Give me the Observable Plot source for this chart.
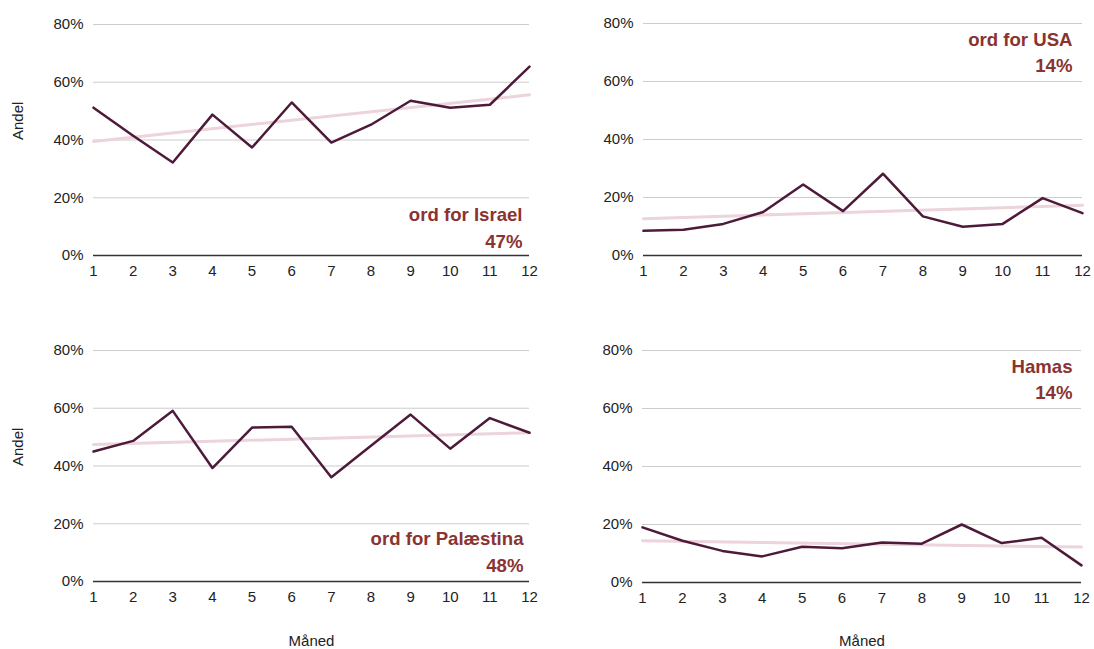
<!DOCTYPE html>
<html>
<head>
<meta charset="utf-8">
<script src="https://cdn.jsdelivr.net/npm/d3@7"></script>
<script src="https://cdn.jsdelivr.net/npm/@observablehq/plot@0.6"></script>
<style>
  html, body { margin: 0; padding: 0; background: #fff; }
  #wrap { position: relative; width: 1094px; height: 649px; overflow: hidden; font-family: "Liberation Sans", Arial, sans-serif; }
  #wrap > div { position: absolute; }
</style>
</head>
<body>
<div id="wrap"></div>
<script>
// Month numbers
const months = [1, 2, 3, 4, 5, 6, 7, 8, 9, 10, 11, 12];
// Shares (%) per month
const israel    = [51.2, 41.5, 32.2, 48.8, 37.4, 53.0, 39.1, 45.3, 53.6, 51.2, 52.2, 65.4];
const usa       = [8.5, 8.9, 10.9, 15.0, 24.5, 15.3, 28.2, 13.5, 9.9, 10.9, 19.8, 14.6];
const palestina = [45.0, 48.7, 59.1, 39.3, 53.3, 53.6, 36.1, 47.0, 57.8, 46.0, 56.6, 51.5];
const hamas     = [19.0, 14.4, 10.9, 9.0, 12.3, 11.8, 13.8, 13.4, 20.0, 13.6, 15.4, 5.9];
// Panel labels
const titles = ["ord for Israel", "ord for USA", "ord for Palæstina", "Hamas"];
const averages = ["47%", "14%", "48%", "14%"];
const yTicks = [0, 20, 40, 60, 80];
const yLabel = "Andel";
const xLabel = "Måned";

const panels = [
  {values: israel,    i: 0, left: 0,   top: 0,   h: 300, ml: 93, mr: 18, mt: 24, mb: 45, anchor: "bottom-right", dx: -7,  dy: -8,  showY: true,  showX: false},
  {values: usa,       i: 1, left: 547, top: 0,   h: 300, ml: 96, mr: 12, mt: 23, mb: 45, anchor: "top-right",    dx: -10, dy: 4,   showY: false, showX: false},
  {values: palestina, i: 2, left: 0,   top: 326, h: 323, ml: 93, mr: 18, mt: 24, mb: 68, anchor: "bottom-right", dx: -6,  dy: -10, showY: true,  showX: true},
  {values: hamas,     i: 3, left: 547, top: 326, h: 323, ml: 95, mr: 13, mt: 24, mb: 67, anchor: "top-right",    dx: -9,  dy: 4,   showY: false, showX: true}
];

const wrap = document.getElementById("wrap");
for (const p of panels) {
  const data = months.map((m, k) => ({month: m, value: p.values[k]}));
  const chart = Plot.plot({
    width: 547,
    height: p.h,
    marginLeft: p.ml,
    marginRight: p.mr,
    marginTop: p.mt,
    marginBottom: p.mb,
    style: {fontFamily: "'Liberation Sans', Arial, sans-serif", fontSize: "15px", color: "#222", background: "transparent", overflow: "visible"},
    x: {domain: [1, 12], ticks: months, tickSize: 0, tickPadding: 10, tickFormat: d => String(d), label: null},
    y: {domain: [0, 80], ticks: yTicks, tickSize: 0, tickPadding: 10, tickFormat: d => d + "%", label: null},
    marks: [
      Plot.ruleY(yTicks.filter(t => t > 0), {stroke: "#cccccc", strokeWidth: 1.2}),
      Plot.ruleY([0], {stroke: "#333333", strokeWidth: 1.5}),
      Plot.linearRegressionY(data, {x: "month", y: "value", stroke: "#ecd3dc", strokeWidth: 3, ci: 0}),
      Plot.line(data, {x: "month", y: "value", stroke: "#4e1a3a", strokeWidth: 2.5}),
      Plot.text([titles[p.i] + "\n" + averages[p.i]], {
        frameAnchor: p.anchor, textAnchor: "end", dx: p.dx, dy: p.dy,
        fill: "#8a3330", fontWeight: "bold", fontSize: 18.6, lineHeight: 1.4
      }),
      p.showY ? Plot.text([yLabel], {frameAnchor: "left", dx: -75, rotate: -90, fill: "#222", fontSize: 15}) : null,
      p.showX ? Plot.text([xLabel], {frameAnchor: "bottom", dy: p.mb - 4, fill: "#222", fontSize: 15}) : null
    ]
  });
  const holder = document.createElement("div");
  holder.style.left = p.left + "px";
  holder.style.top = p.top + "px";
  holder.appendChild(chart);
  wrap.appendChild(holder);
}
</script>
</body>
</html>
